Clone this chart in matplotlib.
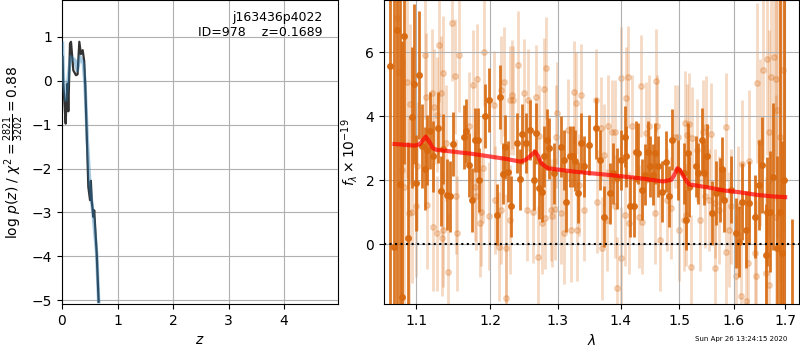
import matplotlib
matplotlib.use("Agg")
import matplotlib.pyplot as plt
from matplotlib.ticker import NullLocator, FixedLocator, FixedFormatter
import numpy as np

# ---- p(z) panel ----
z_fit = [0.01, 0.02, 0.066, 0.08, 0.10, 0.114, 0.144, 0.162, 0.204, 0.252, 0.28, 0.312,
         0.34, 0.372, 0.40, 0.42, 0.474, 0.505, 0.52, 0.535, 0.565, 0.58, 0.625, 0.66]
logp_fit = [0.54, 0.0, -0.98, -0.5, -0.07, -0.7, 0.84, 0.88, 0.23, 0.12, 0.14, 0.88,
            0.6, 0.69, 0.44, -0.15, -2.42, -2.72, -2.28, -2.72, -3.1, -2.95, -3.93, -5.03]
z_smooth = [0.01, 0.024, 0.07, 0.114, 0.156, 0.234, 0.276, 0.324, 0.384, 0.414,
            0.456, 0.505, 0.565, 0.625, 0.66]
logp_smooth = [0.85, 0.05, -0.45, 0.08, 0.54, 0.46, 0.23, 0.54, 0.39, -0.07,
               -1.36, -2.42, -3.1, -3.93, -5.03]

# ---- spectrum panel ----
dark_wave = [1.0667, 1.0707, 1.0751, 1.0785, 1.0810, 1.0845, 1.0888, 1.0940, 1.0965, 1.0990,
             1.1034, 1.1073, 1.1113, 1.1140, 1.1184, 1.1218, 1.1290, 1.1320, 1.1356, 1.1400,
             1.1446, 1.1480, 1.1630, 1.1669, 1.1698, 1.1740, 1.1786, 1.1830, 1.1846, 1.1927,
             1.1990, 1.2096, 1.2143, 1.2180, 1.2216, 1.2250, 1.2297, 1.2385, 1.2425, 1.2460,
             1.2513, 1.2576, 1.2635, 1.2675, 1.2710, 1.2759, 1.2795, 1.2834, 1.2860, 1.2935,
             1.3046, 1.3098, 1.3129, 1.3191, 1.3232, 1.3269, 1.3305, 1.3357, 1.3410, 1.3478,
             1.3593, 1.3660, 1.3723, 1.3828, 1.3870, 1.3932, 1.4003, 1.4066, 1.4092, 1.4156,
             1.4227, 1.4253, 1.4297, 1.4362, 1.4406, 1.4460, 1.4498, 1.4537, 1.4580, 1.4636,
             1.4700, 1.4763, 1.4818, 1.4873, 1.4984, 1.5079, 1.5115, 1.5152, 1.5182, 1.5297,
             1.5345, 1.5405, 1.5448, 1.5508, 1.5599, 1.5660, 1.5734, 1.5770, 1.5815, 1.5939,
             1.6038, 1.6100, 1.6164, 1.6228, 1.6290, 1.6398, 1.6480, 1.6544, 1.6610, 1.6641,
             1.6708, 1.6760, 1.6827, 1.6904, 1.6940, 1.6970, 1.7147]
dark_flux = [5.57, -0.08, 6.70, 1.88, -1.65, 6.49, 0.20, 3.97, 5.00, 1.90,
             5.29, 3.07, 2.36, 2.95, 3.54, 2.74, 3.64, 1.66, 2.98, 1.55,
             1.49, 3.13, 3.34, 3.55, 2.46, 1.38, 3.26, 3.26, 2.01, 3.99,
             4.51, 0.92, 4.59, 2.20, 3.05, 2.27, 1.18, 3.16, 2.03, 3.44,
             3.16, 3.57, 2.01, 3.47, 1.75, 1.64, 2.74, 3.26, 3.00, 2.22,
             3.05, 2.63, 1.33, 2.74, 2.74, 2.61, 1.61, 3.16, 2.43, 3.10,
             3.62, 2.63, 0.86, 1.59, 2.22, 2.06, 2.63, 3.36, 2.74, 1.18,
             1.18, 2.89, 2.84, 1.70, 2.17, 2.89, 2.43, 2.17, 2.84, 2.43,
             1.64, 2.58, 1.49, 3.26, 2.32, 2.22, 0.76, 2.84, 1.80, 2.43,
             2.22, 3.26, 2.22, 2.74, 0.97, 1.59, 1.70, 2.34, 1.38, 1.70,
             0.34, 0.08, 1.33, 0.45, 1.30, 0.86, 1.85, 2.48, -0.33, 1.02,
             1.02, 2.11, -0.13, 1.00, -0.28, 2.00, -2.60]
dark_err = [9.0, 9.0, 9.0, 8.0, 8.0, 4.0, 3.0, 2.2, 2.5, 1.5,
            2.0, 1.3, 1.3, 1.1, 1.2, 1.1, 1.1, 1.1, 1.1, 1.1,
            1.1, 1.0, 1.0, 1.0, 1.0, 1.0, 1.0, 1.0, 1.0, 1.0,
            1.0, 0.95, 1.0, 0.95, 1.0, 0.95, 0.95, 0.95, 0.95, 0.95,
            0.95, 0.95, 0.95, 0.95, 0.95, 0.95, 0.95, 0.95, 0.95, 0.95,
            0.95, 0.95, 0.95, 0.95, 0.95, 0.95, 0.95, 0.95, 0.95, 0.95,
            0.95, 0.95, 0.95, 0.95, 0.95, 0.95, 0.95, 0.95, 0.95, 0.95,
            0.95, 0.95, 0.95, 0.95, 0.95, 0.95, 0.95, 0.95, 0.95, 0.95,
            0.95, 0.95, 0.95, 0.95, 0.95, 0.95, 0.95, 0.95, 0.95, 0.95,
            0.95, 1.0, 1.0, 1.0, 1.0, 1.0, 1.0, 1.0, 1.0, 1.05,
            1.1, 1.1, 1.2, 1.2, 1.3, 1.3, 1.4, 1.5, 1.6, 1.7,
            1.9, 2.3, 2.9, 8.0, 3.5, 7.0, 3.4]

light_wave = [1.0750, 1.0770, 1.0814, 1.0836, 1.0879, 1.0901, 1.0913, 1.0943, 1.1000, 1.1008,
              1.1118, 1.1130, 1.1139, 1.1204, 1.1218, 1.1226, 1.1270, 1.1275, 1.1291, 1.1321,
              1.1336, 1.1349, 1.1356, 1.1393, 1.1423, 1.1467, 1.1506, 1.1529, 1.1535, 1.1570,
              1.1698, 1.1763, 1.1786, 1.1799, 1.1815, 1.1851, 1.1872, 1.1894, 1.1916, 1.1982,
              1.2048, 1.2069, 1.2123, 1.2148, 1.2157, 1.2201, 1.2224, 1.2233, 1.2282, 1.2291,
              1.2314, 1.2327, 1.2401, 1.2490, 1.2534, 1.2556, 1.2622, 1.2664, 1.2701, 1.2719,
              1.2764, 1.2788, 1.2797, 1.2818, 1.2887, 1.2909, 1.2953, 1.2976, 1.2985, 1.3044,
              1.3088, 1.3155, 1.3200, 1.3254, 1.3281, 1.3290, 1.3335, 1.3358, 1.3403, 1.3593,
              1.3619, 1.3671, 1.3697, 1.3723, 1.3774, 1.3786, 1.3854, 1.3908, 1.3910, 1.3945,
              1.3998, 1.4000, 1.4066, 1.4085, 1.4122, 1.4146, 1.4193, 1.4308, 1.4341, 1.4362,
              1.4424, 1.4480, 1.4580, 1.4603, 1.4620, 1.4663, 1.4779, 1.4848, 1.4928, 1.4983,
              1.5000, 1.5080, 1.5102, 1.5119, 1.5147, 1.5175, 1.5212, 1.5229, 1.5311, 1.5369,
              1.5431, 1.5471, 1.5487, 1.5538, 1.5571, 1.5640, 1.5652, 1.5720, 1.5845, 1.5854,
              1.5914, 1.5943, 1.6045, 1.6076, 1.6140, 1.6164, 1.6234, 1.6265, 1.6290, 1.6407,
              1.6425, 1.6447, 1.6497, 1.6560, 1.6628, 1.6636, 1.6679, 1.6687, 1.6712, 1.6777,
              1.6815, 1.6820, 1.6840, 1.6904, 1.6955]
light_flux = [7.06, 5.39, 2.32, 1.80, 5.08, 0.97, 4.38, 0.99, 1.18, 2.43,
              5.92, 4.61, 1.23, 4.72, 0.55, 4.30, 4.04, 0.34, 6.23, 4.72,
              0.19, 0.45, 5.34, 3.16, -0.86, 6.91, 5.24, 1.49, 0.34, 5.92,
              3.68, 4.98, 1.80, 1.51, 5.17, 0.66, 1.02, 2.37, 6.02, 0.88,
              4.35, 1.38, -0.08, 4.82, 1.07, 5.08, -1.69, -0.13, 0.76, 4.49,
              4.67, 4.49, 5.60, 4.72, 1.07, 4.51, 1.02, 4.61, -0.41, 3.38,
              0.66, 4.84, 0.81, 5.50, 1.07, 0.88, 1.09, 3.36, 4.09, 0.97,
              0.36, 3.57, 0.43, 4.74, 4.41, 0.45, 1.85, 4.67, 1.07, 4.51,
              1.33, 3.62, -0.13, 2.79, 0.76, 3.68, 3.52, 3.52, 1.18, -1.38,
              5.19, -0.44, 0.92, 4.56, 5.22, 0.66, 3.68, 0.86, 4.95, 0.68,
              3.47, 3.68, 0.97, 5.11, 3.68, 0.13, 1.38, 1.13, 3.36, 3.36,
              0.45, 0.76, 3.80, 0.92, 3.42, 3.76, -0.70, 3.31, 2.95, 0.76,
              3.52, 1.49, 3.66, 1.38, 3.45, -0.75, 1.28, 1.07, 3.66, -0.23,
              0.45, 1.18, -1.01, 1.18, -1.62, 2.51, -1.79, -0.59, 2.61, -0.28,
              -1.01, 5.03, 3.18, 5.45, -0.91, 5.78, -1.27, 3.49, 5.21, 5.84,
              5.17, 0.86, 4.20, 3.36, 5.45]
light_err = [4.0, 4.0, 4.0, 4.0, 3.0, 3.0, 2.5, 2.2, 2.2, 2.0,
             2.0, 2.0, 2.0, 2.0, 2.0, 1.8, 1.8, 1.8, 1.8, 1.8,
             1.8, 1.8, 1.8, 1.8, 1.8, 1.8, 1.8, 1.8, 1.8, 1.8,
             1.7, 1.7, 1.7, 1.7, 1.7, 1.7, 1.7, 1.7, 1.7, 1.7,
             1.7, 1.7, 1.7, 1.7, 1.7, 1.7, 1.7, 1.7, 1.7, 1.7,
             1.7, 1.7, 1.7, 1.7, 1.6, 1.6, 1.6, 1.6, 1.6, 1.6,
             1.6, 1.6, 1.6, 1.6, 1.6, 1.6, 1.6, 1.6, 1.6, 1.6,
             1.6, 1.6, 1.6, 1.6, 1.6, 1.6, 1.6, 1.6, 1.6, 1.6,
             1.6, 1.6, 1.6, 1.6, 1.6, 1.6, 1.6, 1.6, 1.6, 1.6,
             1.6, 1.6, 1.6, 1.6, 1.6, 1.6, 1.6, 1.6, 1.6, 1.6,
             1.6, 1.6, 1.6, 1.6, 1.6, 1.6, 1.6, 1.6, 1.6, 1.6,
             1.6, 1.6, 1.6, 1.6, 1.6, 1.6, 1.6, 1.6, 1.6, 1.6,
             1.6, 1.6, 1.6, 1.6, 1.6, 1.7, 1.7, 1.7, 1.7, 1.7,
             1.8, 1.8, 1.9, 1.9, 2.0, 2.0, 2.1, 2.1, 2.2, 2.4,
             2.4, 2.5, 2.6, 2.8, 3.0, 3.0, 3.2, 3.2, 3.3, 3.6,
             3.8, 3.8, 4.0, 4.5, 5.0]

model_wave = [1.0719, 1.0978, 1.1040, 1.1085, 1.1122, 1.1170, 1.1215, 1.1262, 1.1526, 1.1756,
              1.1996, 1.2239, 1.2435, 1.2510, 1.2580, 1.2655, 1.2700, 1.2744, 1.2849, 1.3236,
              1.3770, 1.4320, 1.4720, 1.4860, 1.4910, 1.4968, 1.5020, 1.5080, 1.5170, 1.5498,
              1.5805, 1.6120, 1.6440, 1.6770, 1.7000]
model_flux = [3.13, 3.08, 3.12, 3.25, 3.36, 3.20, 3.00, 2.95, 2.88, 2.82,
              2.74, 2.66, 2.58, 2.63, 2.75, 2.89, 2.75, 2.53, 2.37, 2.27,
              2.17, 2.06, 1.96, 2.01, 2.15, 2.37, 2.30, 2.11, 1.87, 1.78,
              1.68, 1.62, 1.54, 1.49, 1.47]

wave_ticks = [1.1, 1.2, 1.3, 1.4, 1.5, 1.6, 1.7]

orange = '#d8690f'

fig = plt.figure(figsize=(8, 3.5), dpi=100)

# 左邊: p(z)
ax1 = fig.add_axes([0.0775, 0.1314, 0.345, 0.8686])
ax1.plot(z_fit, logp_fit, color='0.2', lw=1.6, zorder=3)
ax1.plot(z_smooth, logp_smooth, color='#1f77b4', lw=2.5, alpha=0.4, zorder=4)
ax1.set_xlim(0, 4.97)
ax1.set_ylim(-5.08, 1.83)
ax1.set_xticks([0, 1, 2, 3, 4])
ax1.set_yticks([-5, -4, -3, -2, -1, 0, 1])
ax1.grid(True)
ax1.set_xlabel('$z$')
ax1.set_ylabel(r'log $p(z)$ / $\chi^2=\frac{2821}{3202}=0.88$')
ax1.text(0.945, 0.965, 'j163436p4022\nID=978    z=0.1689', transform=ax1.transAxes,
         ha='right', va='top', fontsize=9)

# 右邊: spectrum
ax2 = fig.add_axes([0.48, 0.1314, 0.519, 0.8686])
ax2.errorbar(light_wave, light_flux, yerr=light_err, marker='o', ms=4, linestyle='none',
             color=orange, alpha=0.25, elinewidth=2, zorder=1)
ax2.errorbar(dark_wave, dark_flux, yerr=dark_err, marker='o', ms=4, linestyle='none',
             color=orange, alpha=0.9, elinewidth=2, zorder=2)
ax2.plot(model_wave, model_flux, color='r', lw=3, alpha=0.7, zorder=5)
ax2.axhline(0, color='k', ls=':', lw=1.5, zorder=6)
ax2.set_xscale('log')
ax2.set_xlim(1.0587, 1.7284)
ax2.set_ylim(-1.87, 7.63)
ax2.xaxis.set_major_locator(FixedLocator(wave_ticks))
ax2.xaxis.set_major_formatter(FixedFormatter([str(w) for w in wave_ticks]))
ax2.xaxis.set_minor_locator(NullLocator())
ax2.set_yticks([0, 2, 4, 6])
ax2.grid(True)
ax2.set_xlabel(r'$\lambda$')
ax2.set_ylabel(r'$f_\lambda\times10^{-19}$')

fig.text(0.984, 0.031, 'Sun Apr 26 13:24:15 2020', ha='right', va='center', fontsize=5)

plt.savefig('out.png', dpi=100)
